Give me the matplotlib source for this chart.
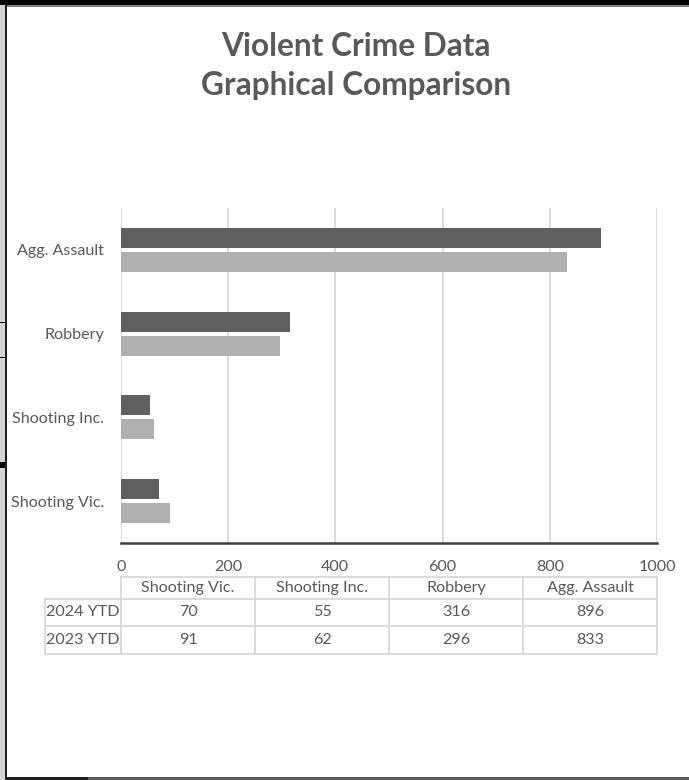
import matplotlib.pyplot as plt
from matplotlib.patches import Rectangle
from matplotlib.lines import Line2D
import numpy as np

categories = ['Shooting Vic.', 'Shooting Inc.', 'Robbery', 'Agg. Assault']
ytd_2024 = [70, 55, 316, 896]
ytd_2023 = [91, 62, 296, 833]
series_labels = ['2024 YTD', '2023 YTD']
title_lines = ['Violent Crime Data', 'Graphical Comparison']

W, H = 689, 780
plt.rcParams['font.family'] = ['Lato', 'DejaVu Sans']
txt = '#595959'
grid = '#d9d9d9'
fs = 11.6

fig = plt.figure(figsize=(W / 100, H / 100), dpi=100)


def fx(px):
    return px / W


def fy(py):
    return 1 - py / H


# plot area in pixels
L, R, T, B = 121, 657, 208, 543
ax = fig.add_axes([fx(L), fy(B), fx(R) - fx(L), fy(T) - fy(B)])

y = np.arange(len(categories))
h = 0.24
off = 0.143
ax.barh(y + off, ytd_2024, height=h, color='#606060', label=series_labels[0])
ax.barh(y - off, ytd_2023, height=h, color='#b0b0b0', label=series_labels[1])

ax.set_xlim(0, 1000)
ax.set_ylim(-0.5, len(categories) - 0.5)
ax.set_xticks(np.arange(0, 1001, 200))
ax.set_yticks(y, categories)
ax.xaxis.grid(True, color=grid, lw=1.3)
ax.set_axisbelow(True)
for s in ['top', 'right', 'left']:
    ax.spines[s].set_visible(False)
ax.spines['bottom'].set_color('#404040')
ax.spines['bottom'].set_linewidth(1.8)
ax.tick_params(length=0, colors=txt, labelsize=fs)
ax.tick_params(axis='y', pad=12)
ax.tick_params(axis='x', pad=12)

for ty, line in zip((47, 85), title_lines):
    fig.text(fx(356), fy(ty), line, ha='center', va='center', fontsize=22.8,
             fontweight='bold', color=txt)

# data table under the chart
col_w = (R - L) / len(categories)
hdr_top, row_h = 577, [22, 27, 28]
rows_y = [hdr_top, hdr_top + row_h[0], hdr_top + row_h[0] + row_h[1],
          hdr_top + sum(row_h)]
lab_x = 45
lw = 1.3
# horizontal lines
fig.add_artist(Line2D([fx(L), fx(R)], [fy(rows_y[0])] * 2, color=grid, lw=lw))
for ry in rows_y[1:]:
    fig.add_artist(Line2D([fx(lab_x), fx(R)], [fy(ry)] * 2, color=grid, lw=lw))
# vertical lines
fig.add_artist(Line2D([fx(lab_x)] * 2, [fy(rows_y[1]), fy(rows_y[3])], color=grid, lw=lw))
for i in range(len(categories) + 1):
    xx = L + i * col_w
    fig.add_artist(Line2D([fx(xx)] * 2, [fy(rows_y[0]), fy(rows_y[3])], color=grid, lw=lw))

for i, c in enumerate(categories):
    cx = L + (i + 0.5) * col_w
    fig.text(fx(cx), fy((rows_y[0] + rows_y[1]) / 2), c, ha='center', va='center',
             fontsize=fs, color=txt)
    for r, vals in enumerate([ytd_2024, ytd_2023]):
        fig.text(fx(cx), fy((rows_y[r + 1] + rows_y[r + 2]) / 2), str(vals[i]),
                 ha='center', va='center', fontsize=fs, color=txt)
for r, lab in enumerate(series_labels):
    fig.text(fx((lab_x + L) / 2), fy((rows_y[r + 1] + rows_y[r + 2]) / 2), lab,
             ha='center', va='center', fontsize=fs, color=txt)

# screenshot frame bits
fig.add_artist(Rectangle((0, fy(5)), 1, fy(0) - fy(5), color='black', lw=0))
fig.add_artist(Rectangle((0, fy(7)), 1, fy(5) - fy(7), color='#808080', lw=0))
fig.add_artist(Rectangle((0, 0), fx(5), fy(5), color='#d4d4d4', lw=0))
fig.add_artist(Rectangle((fx(5), fy(778)), fx(2), fy(5) - fy(778), color='#202020', lw=0))
fig.add_artist(Rectangle((fx(5), fy(780)), 1, fy(777) - fy(780), color='#5a5a5a', lw=0))
fig.add_artist(Rectangle((fx(5), fy(780)), fx(83), fy(777) - fy(780), color='#202020', lw=0))
for my in (322, 357):
    fig.add_artist(Rectangle((0, fy(my + 1)), fx(5), fy(my) - fy(my + 1), color='black', lw=0))
fig.add_artist(Rectangle((0, fy(468)), fx(5), fy(462) - fy(468), color='black', lw=0))

fig.savefig('out.png', dpi=100)
